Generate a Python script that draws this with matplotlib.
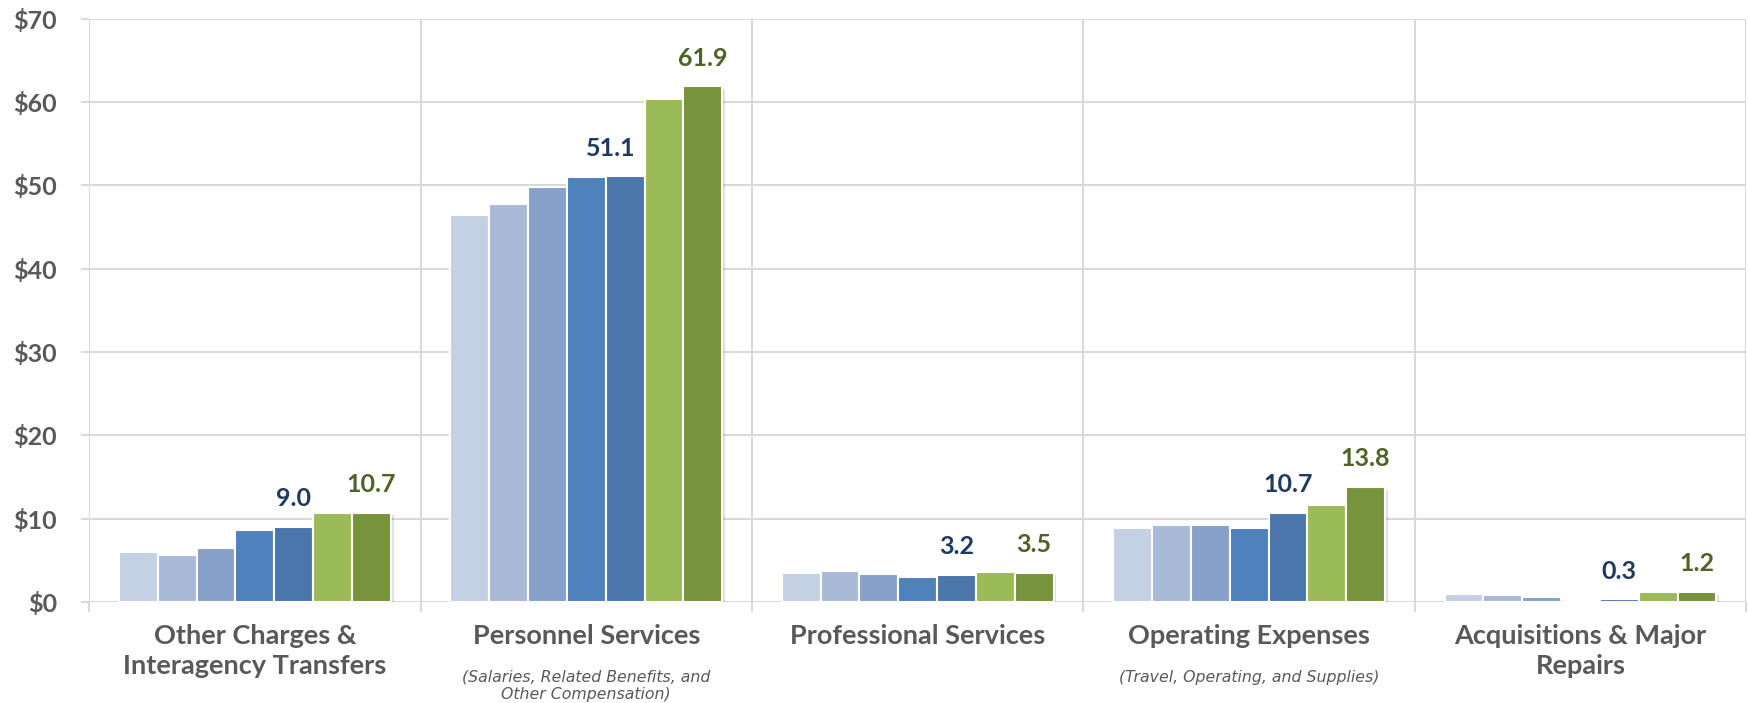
import matplotlib
matplotlib.use("Agg")
from matplotlib import pyplot as plt
from matplotlib import patheffects as pe
import numpy as np

plt.rcParams["font.family"] = ["Lato", "DejaVu Sans"]

# categories and sub-captions
categories = ["Other Charges &\nInteragency Transfers", "Personnel Services",
              "Professional Services", "Operating Expenses",
              "Acquisitions & Major\nRepairs"]
subtitles = ["", "(Salaries, Related Benefits, and\nOther Compensation)", "",
             "(Travel, Operating, and Supplies)", ""]

# seven yearly series (millions of dollars), one value per category
s1 = [6.0, 46.4, 3.5, 8.9, 0.9]
s2 = [5.6, 47.8, 3.7, 9.2, 0.85]
s3 = [6.4, 49.8, 3.3, 9.2, 0.6]
s4 = [8.6, 51.0, 3.0, 8.9, 0.0]
s5 = [9.0, 51.1, 3.2, 10.7, 0.3]
s6 = [10.7, 60.4, 3.6, 11.6, 1.2]
s7 = [10.7, 61.9, 3.5, 13.8, 1.2]
series = [s1, s2, s3, s4, s5, s6, s7]

# which series get a value label
labeled = {4: "#1F3A60", 6: "#4F6228"}

colors = ["#C4D0E3", "#A9B9D8", "#87A1CB", "#4F81BD", "#4A76AC", "#9BBB59", "#77933C"]
gray = "#595959"
gridc = "#D9D9D9"

fig = plt.figure(figsize=(17.48, 7.03), dpi=100)
ax = fig.add_axes([0.051, 0.144, 0.948, 0.829])

x = np.arange(len(categories))
w = 0.82 / 7
shadow = [pe.SimplePatchShadow(offset=(2, -2), shadow_rgbFace="#000000", alpha=0.12), pe.Normal()]
for i, vals in enumerate(series):
    pos = x + (i - 3) * w
    bars = ax.bar(pos, vals, width=w, color=colors[i], edgecolor="white",
                  linewidth=1.5, zorder=3)
    for b in bars:
        b.set_path_effects(shadow)
    if i in labeled:
        for j, (px, v) in enumerate(zip(pos, vals)):
            # nudge left when the next bar would cover the label
            dx = 0
            if i + 1 < len(series) and series[i + 1][j] > v + 4:
                dx = -10
            ax.annotate(f"{v:.1f}", (px, v), xytext=(dx, 12), textcoords="offset points",
                        ha="center", va="bottom", fontsize=18, fontweight="bold",
                        color=labeled[i], zorder=5)

ax.set_xlim(-0.5, len(categories) - 0.5)
ax.set_ylim(0, 70)
ax.set_yticks(range(0, 71, 10))
ax.set_yticklabels([f"${v}" for v in range(0, 71, 10)])
ax.tick_params(axis="y", length=6, color=gridc, width=1.5, pad=17,
               labelsize=18, labelcolor=gray)
for t in ax.get_yticklabels():
    t.set_fontweight("bold")

# category boundaries as minor ticks with gridlines
ax.set_xticks(np.arange(-0.5, len(categories), 1.0), minor=True)
ax.set_xticks([])
ax.tick_params(axis="x", which="minor", length=7, color=gridc, width=1.5)
ax.grid(True, which="major", axis="y", color=gridc, linewidth=1.5, zorder=0)
ax.grid(True, which="minor", axis="x", color=gridc, linewidth=1.5, zorder=0)
for s in ax.spines.values():
    s.set_visible(False)
ax.set_axisbelow(True)

trans = ax.get_xaxis_transform()
for xi, cat, sub in zip(x, categories, subtitles):
    ax.annotate(cat, (xi, 0), xycoords=trans, xytext=(0, -16), textcoords="offset points",
                ha="center", va="top", fontsize=19.5, fontweight="bold", color=gray,
                linespacing=1.3, annotation_clip=False)
    if sub:
        ax.annotate(sub, (xi, 0), xycoords=trans, xytext=(0, -49), textcoords="offset points",
                    ha="center", va="top", fontsize=11.3, fontstyle="italic", color=gray,
                    family="DejaVu Sans", linespacing=1.2, annotation_clip=False)

fig.savefig("out.png", dpi=100)
